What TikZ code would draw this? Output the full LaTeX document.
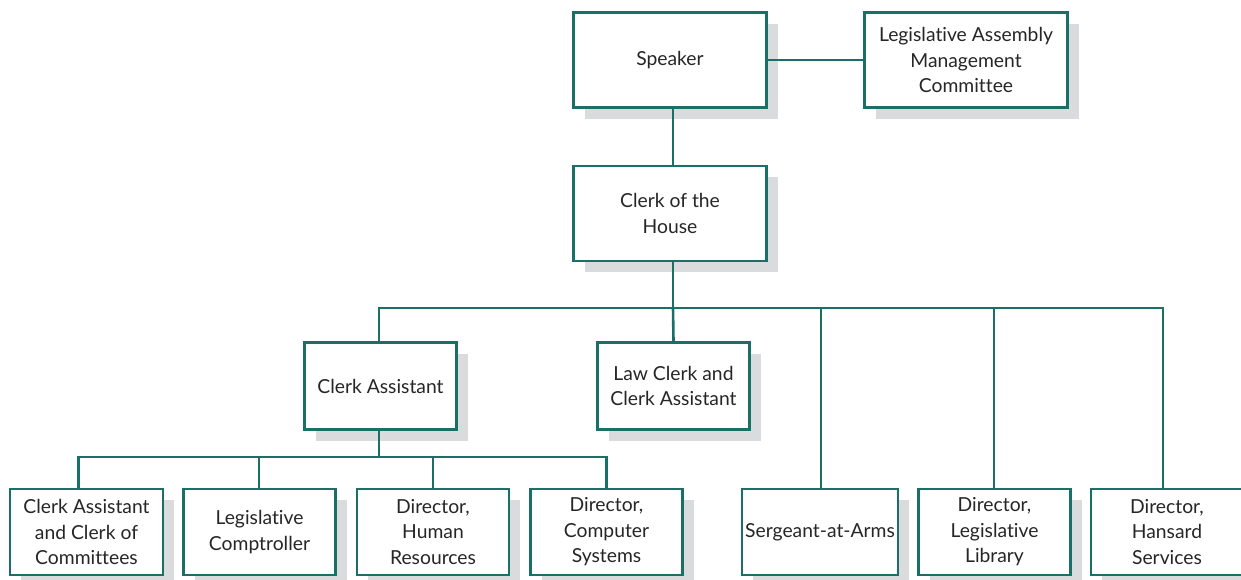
\documentclass[tikz,border=0pt]{standalone}
\usepackage{fontspec}
\setmainfont{Lato}[Ligatures=NoCommon,RawFeature={-liga;-dlig}]
\usetikzlibrary{shadows}
\definecolor{tealline}{HTML}{1A6F66}
\definecolor{shade}{HTML}{DADBDD}
\definecolor{txt}{HTML}{262626}
\tikzset{
  box/.style={draw=tealline, line width=2.6pt, fill=white, align=center, text=txt,
    font=\fontsize{19.3}{25.5}\selectfont, inner sep=0pt,
    drop shadow={shadow xshift=11pt, shadow yshift=-11pt, fill=shade, opacity=1}},
  link/.style={draw=tealline, line width=2.6pt}
}
\begin{document}
\begin{tikzpicture}[x=1pt,y=-1pt]
\useasboundingbox (0,0) rectangle (1241,579);
% top
\node[box, minimum width=193pt, minimum height=95pt] (speaker) at (670,60) {Speaker};
\node[box, minimum width=203pt, minimum height=95pt] (lamc) at (966,60) {Legislative Assembly\\Management\\Committee};
\node[box, minimum width=193pt, minimum height=95pt] (clerk) at (670,213.5) {Clerk of the\\House};
% middle
\node[box, minimum width=152pt, minimum height=87pt] (ca) at (380.5,386) {Clerk Assistant};
\node[box, minimum width=152pt, minimum height=87pt] (law) at (673.5,386) {Law Clerk and\\Clerk Assistant};
% bottom
\node[box, minimum width=153pt, minimum height=86pt] (cacc) at (86.5,532) {Clerk Assistant\\and Clerk of\\Committees};
\node[box, minimum width=152pt, minimum height=86pt] (comp) at (259.5,532) {Legislative\\Comptroller};
\node[box, minimum width=152pt, minimum height=86pt] (hr) at (433,532) {Director,\\Human\\Resources};
\node[box, minimum width=152pt, minimum height=86pt] (cs) at (606.5,532) {Director,\\Computer\\Systems};
\node[box, minimum width=156pt, minimum height=86pt] (sarg) at (820,532) {Sergeant-at-Arms};
\node[box, minimum width=152pt, minimum height=86pt] (lib) at (994.5,532) {Director,\\Legislative\\Library};
\node[box, minimum width=152pt, minimum height=86pt] (han) at (1167,532) {Director,\\Hansard\\Services};
% connectors
\coordinate (busA) at (673,308);
\coordinate (busB) at (379,457);
\draw[link] (speaker) -- (lamc);
\draw[link] ([xshift=3pt]speaker.south) -- ([xshift=3pt]clerk.north);
\draw[link] ([xshift=3pt]clerk.south) -- (busA);
\draw[link] (busA) -| ([xshift=-1.5pt]ca.north);
\draw[link] (busA) -- (law.north);
\draw[link] (busA) -| ([xshift=1pt]sarg.north);
\draw[link] (busA) -| ([xshift=-0.5pt]lib.north);
\draw[link] (busA) -| ([xshift=-4pt]han.north);
\draw[link] ([xshift=-1.5pt]ca.south) -- (busB);
\draw[link] (busB) -| ([xshift=-8pt]cacc.north);
\draw[link] (busB) -| ([xshift=-0.5pt]comp.north);
\draw[link] (busB) -| (hr.north);
\draw[link] (busB) -| (cs.north);
\end{tikzpicture}
\end{document}
